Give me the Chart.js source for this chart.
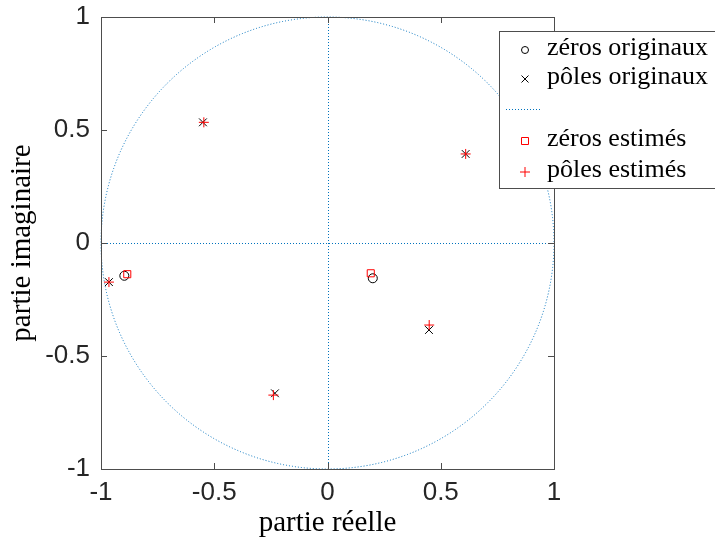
<!DOCTYPE html>
<html>
<head>
<meta charset="utf-8">
<script src="https://cdn.jsdelivr.net/npm/chart.js@4.4.1/dist/chart.umd.min.js"></script>
<style>
	html, body { margin: 0; padding: 0; background: #fff; overflow: hidden; }
	#wrap { width: 715px; height: 537px; }
</style>
</head>
<body>
<div id="wrap"><canvas id="pz" width="715" height="537"></canvas></div>
<script>
const colDot = "#0072bd";
const colAxis = "#4d4d4d";
const colText = "#262626";

// pôles et zéros
const zerosOrigX = [-0.897, 0.200];
const zerosOrigY = [-0.145, -0.156];
const polesOrigX = [-0.965, -0.550, -0.232, 0.448, 0.610];
const polesOrigY = [-0.173, 0.534, -0.665, -0.385, 0.394];
const zerosEstX = [-0.884, 0.191];
const zerosEstY = [-0.138, -0.134];
const polesEstX = [-0.965, -0.546, -0.239, 0.449, 0.610];
const polesEstY = [-0.173, 0.534, -0.673, -0.363, 0.394];

const tickVals = [-1, -0.5, 0, 0.5, 1];
const tickLabels = ["-1", "-0.5", "0", "0.5", "1"];
const legendLabels = ["zéros originaux", "pôles originaux", "", "zéros estimés", "pôles estimés"];

const pts = (xs, ys) => xs.map((x, i) => ({ x: x, y: ys[i] }));
const tickText = (v) => {
	const i = tickVals.indexOf(v);
	return i < 0 ? "" : tickLabels[i];
};

// cercle unité + axes en pointillés, derrière les marqueurs
const unitCircle = {
	id: "unitCircle",
	beforeDatasetsDraw(chart) {
		const { ctx, scales: { x, y } } = chart;
		const cx = x.getPixelForValue(0), cy = y.getPixelForValue(0);
		const rx = x.getPixelForValue(1) - cx, ry = cy - y.getPixelForValue(1);
		const lx = Math.round(cx) + 0.5, ly = Math.round(cy) + 0.5;
		ctx.save();
		ctx.strokeStyle = colDot;
		ctx.lineWidth = 1;
		ctx.setLineDash([1, 2]);
		ctx.beginPath();
		ctx.ellipse(cx, cy, rx, ry, 0, 0, Math.PI * 2);
		ctx.stroke();
		ctx.beginPath();
		ctx.moveTo(x.getPixelForValue(-1), ly);
		ctx.lineTo(x.getPixelForValue(1), ly);
		ctx.moveTo(lx, y.getPixelForValue(-1));
		ctx.lineTo(lx, y.getPixelForValue(1));
		ctx.stroke();
		ctx.restore();
	},
};

// cadre + graduations vers l'intérieur
const boxTicks = {
	id: "boxTicks",
	afterDatasetsDraw(chart) {
		const { ctx, chartArea: a, scales: { x, y } } = chart;
		ctx.save();
		ctx.strokeStyle = colAxis;
		ctx.lineWidth = 1;
		ctx.strokeRect(Math.round(a.left) + 0.5, Math.round(a.top) + 0.5,
			Math.round(a.right - a.left), Math.round(a.bottom - a.top));
		ctx.beginPath();
		tickVals.forEach((v) => {
			const px = Math.round(x.getPixelForValue(v)) + 0.5;
			ctx.moveTo(px, a.bottom); ctx.lineTo(px, a.bottom - 6);
			ctx.moveTo(px, a.top); ctx.lineTo(px, a.top + 6);
			const py = Math.round(y.getPixelForValue(v)) + 0.5;
			ctx.moveTo(a.left, py); ctx.lineTo(a.left + 6, py);
			ctx.moveTo(a.right, py); ctx.lineTo(a.right - 6, py);
		});
		ctx.stroke();
		ctx.restore();
	},
};

function drawMarker(ctx, kind, px, py, r, color) {
	ctx.save();
	ctx.strokeStyle = color;
	ctx.lineWidth = 1;
	ctx.beginPath();
	if (kind === "circle") {
		ctx.arc(px, py, r, 0, Math.PI * 2);
	} else if (kind === "x") {
		ctx.moveTo(px - r, py - r); ctx.lineTo(px + r, py + r);
		ctx.moveTo(px - r, py + r); ctx.lineTo(px + r, py - r);
	} else if (kind === "rect") {
		ctx.rect(px - r, py - r, 2 * r, 2 * r);
	} else if (kind === "plus") {
		ctx.moveTo(px - r, py); ctx.lineTo(px + r, py);
		ctx.moveTo(px, py - r); ctx.lineTo(px, py + r);
	}
	ctx.stroke();
	ctx.restore();
}

const boxLegend = {
	id: "boxLegend",
	afterDraw(chart) {
		const ctx = chart.ctx;
		const left = 499.5, top = 31.5, rowY = [50, 79, 109, 141, 172];
		ctx.save();
		ctx.fillStyle = "#fff";
		ctx.strokeStyle = colAxis;
		ctx.lineWidth = 1;
		ctx.fillRect(left, top, 240, 157);
		ctx.strokeRect(left, top, 240, 157);
		drawMarker(ctx, "circle", 525, rowY[0], 3.5, "#000");
		drawMarker(ctx, "x", 525, rowY[1], 3.5, "#000");
		ctx.strokeStyle = colDot;
		ctx.setLineDash([1, 2]);
		ctx.beginPath();
		ctx.moveTo(506, rowY[2] + 0.5);
		ctx.lineTo(541, rowY[2] + 0.5);
		ctx.stroke();
		ctx.setLineDash([]);
		drawMarker(ctx, "rect", 525, rowY[3], 3.5, "#ff0000");
		drawMarker(ctx, "plus", 525, rowY[4], 5, "#ff0000");
		ctx.fillStyle = "#000";
		ctx.font = "26px 'Liberation Serif'";
		ctx.textBaseline = "alphabetic";
		ctx.textAlign = "left";
		legendLabels.forEach((t, i) => {
			if (t) ctx.fillText(t, 547, rowY[i] + 5);
		});
		ctx.restore();
	},
};

new Chart(document.getElementById("pz"), {
	type: "scatter",
	data: {
		datasets: [
			{
				label: legendLabels[3],
				data: pts(zerosEstX, zerosEstY),
				pointStyle: "rect",
				pointRadius: 5,
				borderColor: "#ff0000",
				backgroundColor: "rgba(0,0,0,0)",
				borderWidth: 1,
				order: 1,
			},
			{
				label: legendLabels[4],
				data: pts(polesEstX, polesEstY),
				pointStyle: "cross",
				pointRadius: 5,
				borderColor: "#ff0000",
				backgroundColor: "rgba(0,0,0,0)",
				borderWidth: 1,
				order: 1,
			},
			{
				label: legendLabels[0],
				data: pts(zerosOrigX, zerosOrigY),
				pointStyle: "circle",
				pointRadius: 4.5,
				borderColor: "#000",
				backgroundColor: "rgba(0,0,0,0)",
				borderWidth: 1,
				order: 2,
			},
			{
				label: legendLabels[1],
				data: pts(polesOrigX, polesOrigY),
				pointStyle: "crossRot",
				pointRadius: 5.5,
				borderColor: "#000",
				backgroundColor: "rgba(0,0,0,0)",
				borderWidth: 1,
				order: 2,
			},
		],
	},
	options: {
		responsive: false,
		animation: false,
		clip: false,
		layout: { padding: { top: 17, right: 161, left: 0, bottom: 0 } },
		plugins: {
			legend: { display: false },
			tooltip: { enabled: false },
		},
		scales: {
			x: {
				min: -1,
				max: 1,
				afterFit: (s) => { s.height = 68; s.paddingLeft = 0; s.paddingRight = 0; },
				grid: { display: false, drawTicks: false },
				border: { display: false },
				ticks: {
					stepSize: 0.5,
					padding: 8,
					color: colText,
					font: { family: "'Liberation Sans'", size: 26 },
					callback: tickText,
				},
				title: {
					display: true,
					text: "partie réelle",
					color: "#000",
					padding: { top: 0, bottom: -4 },
					font: { family: "'Liberation Serif'", size: 29 },
				},
			},
			y: {
				min: -1,
				max: 1,
				afterFit: (s) => { s.width = 101; s.paddingTop = 0; s.paddingBottom = 0; },
				grid: { display: false, drawTicks: false },
				border: { display: false },
				ticks: {
					stepSize: 0.5,
					padding: 11,
					color: colText,
					font: { family: "'Liberation Sans'", size: 26 },
					callback: tickText,
				},
				title: {
					display: true,
					text: "partie imaginaire",
					color: "#000",
					padding: { top: 5, bottom: 0 },
					font: { family: "'Liberation Serif'", size: 29 },
				},
			},
		},
	},
	plugins: [unitCircle, boxTicks, boxLegend],
});
</script>
</body>
</html>
